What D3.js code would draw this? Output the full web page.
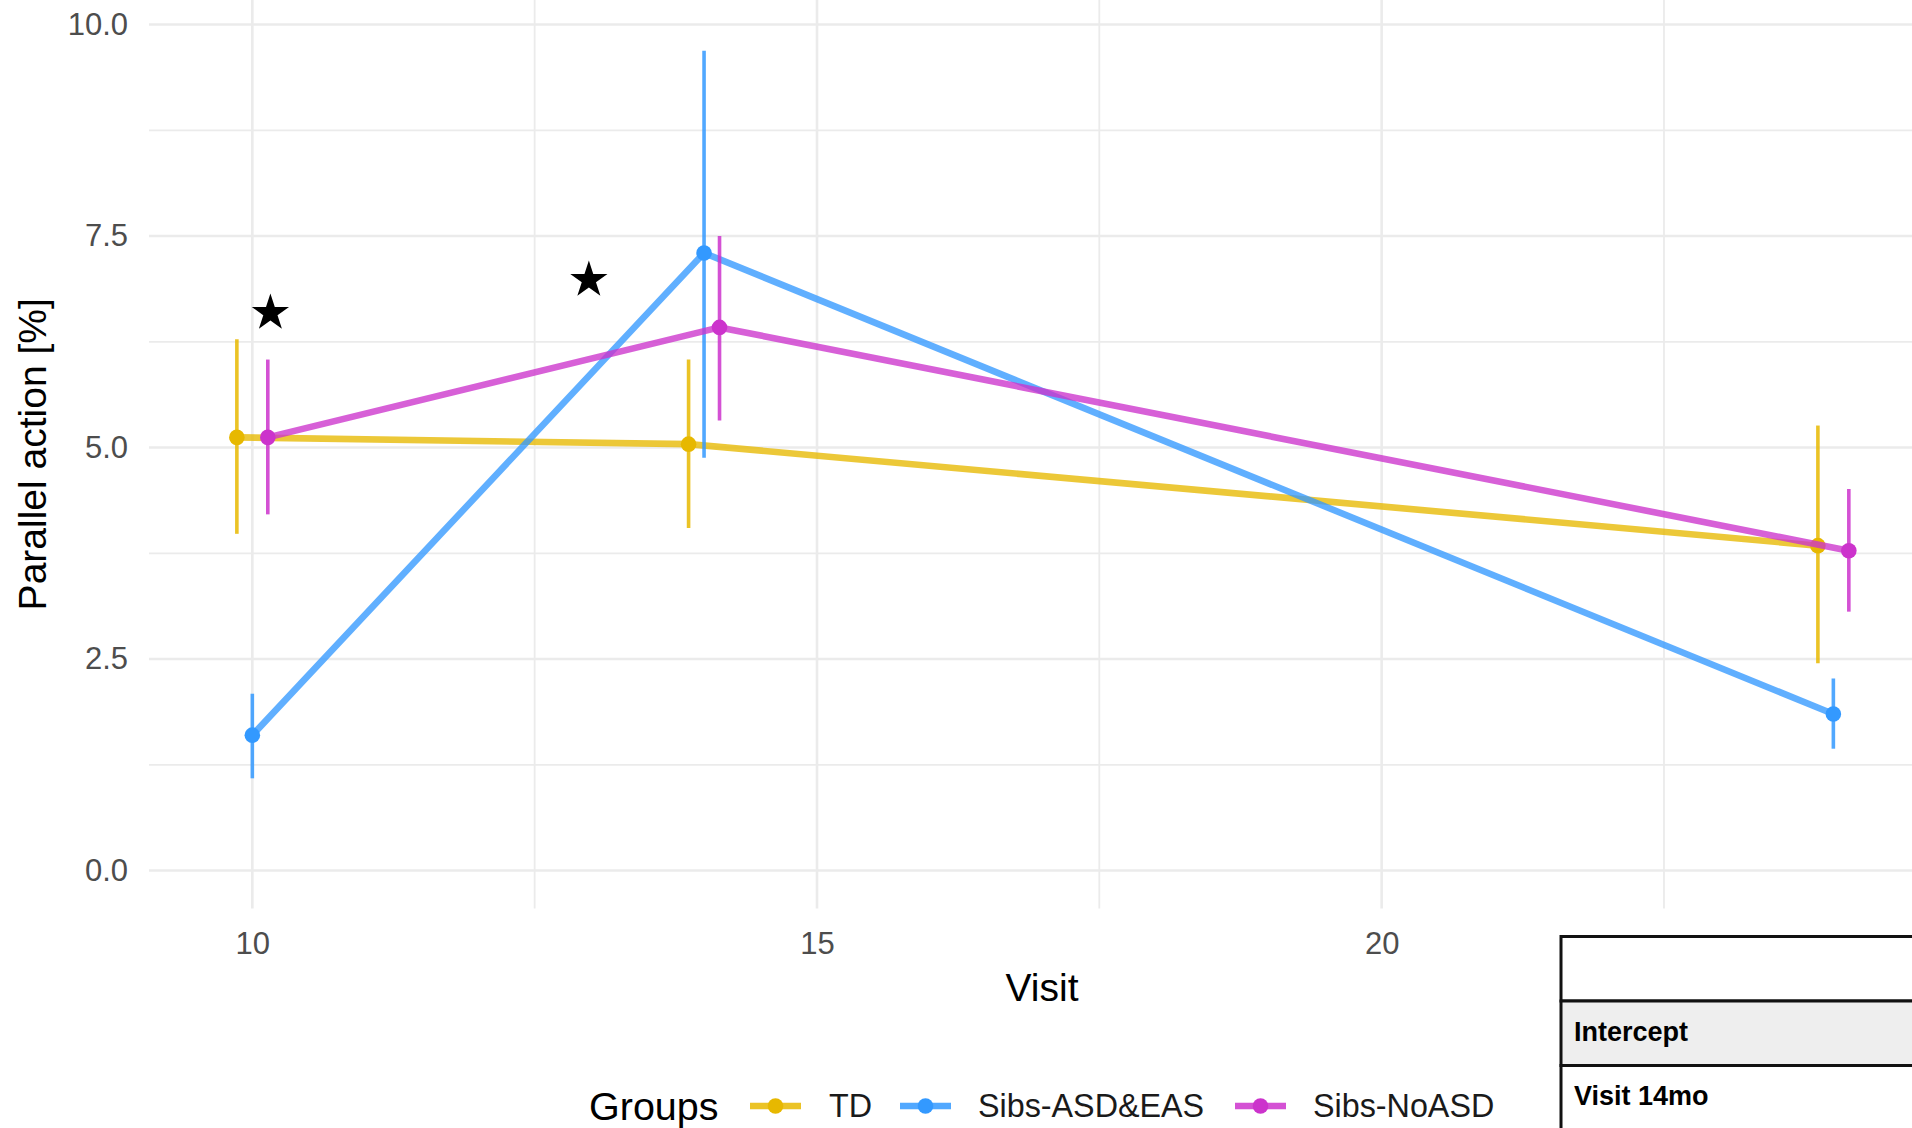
<!DOCTYPE html>
<html>
<head>
<meta charset="utf-8">
<script src="https://cdn.jsdelivr.net/npm/d3@7"></script>
<style>
  html, body { margin: 0; padding: 0; background: #ffffff; overflow: hidden; }
  svg { display: block; font-family: "Liberation Sans", Arial, Helvetica, sans-serif; }
</style>
</head>
<body>
<svg id="chart" width="1912" height="1128"></svg>
<script>
// Visits (months) and group summaries: mean with lower / upper error limits
const visits = [10, 14, 24];
const groups = ["TD", "Sibs-ASD&EAS", "Sibs-NoASD"];
const groupColors = ["#E7B800", "#3399FF", "#CC33CC"];

const tdMean = [5.12, 5.04, 3.84];
const tdLow = [3.98, 4.05, 2.45];
const tdHigh = [6.28, 6.04, 5.26];

const asdMean = [1.60, 7.30, 1.85];
const asdLow = [1.09, 4.88, 1.44];
const asdHigh = [2.09, 9.69, 2.27];

const noAsdMean = [5.12, 6.42, 3.78];
const noAsdLow = [4.21, 5.32, 3.06];
const noAsdHigh = [6.04, 7.50, 4.51];

// Significance markers (visit, value)
const starVisit = [10.16, 12.98];
const starValue = [6.59, 6.98];

// Axis ticks
const xTicks = [10, 15, 20];
const xMinor = [12.5, 17.5, 22.5];
const yTicks = [0, 2.5, 5, 7.5, 10];
const yMinor = [1.25, 3.75, 6.25, 8.75];

// Regression table rows
const tableRows = ["", "Intercept", "Visit 14mo"];

const series = [
  { name: groups[0], color: groupColors[0], mean: tdMean, low: tdLow, high: tdHigh, offset: -1 },
  { name: groups[1], color: groupColors[1], mean: asdMean, low: asdLow, high: asdHigh, offset: 0 },
  { name: groups[2], color: groupColors[2], mean: noAsdMean, low: noAsdLow, high: noAsdHigh, offset: 1 }
];
const dodge = 0.137;

const svg = d3.select("#chart");

const panel = { left: 149, right: 1935, top: 0, bottom: 908.6 };
const x = d3.scaleLinear().domain([9.085, 24.9]).range([panel.left, panel.right]);
const y = d3.scaleLinear().domain([-0.45, 10.29]).range([panel.bottom, panel.top]);

// Grid
const grid = svg.append("g").attr("class", "grid");
grid.selectAll(".ymin").data(yMinor).join("line")
  .attr("x1", panel.left).attr("x2", panel.right)
  .attr("y1", d => y(d)).attr("y2", d => y(d))
  .attr("stroke", "#EBEBEB").attr("stroke-width", 1.8);
grid.selectAll(".xmin").data(xMinor).join("line")
  .attr("y1", panel.top).attr("y2", panel.bottom)
  .attr("x1", d => x(d)).attr("x2", d => x(d))
  .attr("stroke", "#EBEBEB").attr("stroke-width", 1.8);
grid.selectAll(".ymaj").data(yTicks).join("line")
  .attr("x1", panel.left).attr("x2", panel.right)
  .attr("y1", d => y(d)).attr("y2", d => y(d))
  .attr("stroke", "#EBEBEB").attr("stroke-width", 2.6);
grid.selectAll(".xmaj").data(xTicks).join("line")
  .attr("y1", panel.top).attr("y2", panel.bottom)
  .attr("x1", d => x(d)).attr("x2", d => x(d))
  .attr("stroke", "#EBEBEB").attr("stroke-width", 2.6);

// Axes (tick labels only, no domain lines)
const yAxis = d3.axisLeft(y).tickValues(yTicks).tickFormat(d3.format(".1f")).tickSize(0).tickPadding(0);
svg.append("g").attr("transform", `translate(128,0)`).call(yAxis)
  .call(g => g.select(".domain").remove())
  .call(g => g.selectAll("text").attr("font-size", 31).attr("fill", "#4D4D4D")
    .attr("font-family", "Liberation Sans, Arial, sans-serif"));

const xAxis = d3.axisBottom(x).tickValues(xTicks).tickFormat(d3.format("d")).tickSize(0).tickPadding(0);
svg.append("g").attr("transform", `translate(0,932)`).call(xAxis)
  .call(g => g.select(".domain").remove())
  .call(g => g.selectAll("text").attr("font-size", 31).attr("fill", "#4D4D4D")
    .attr("font-family", "Liberation Sans, Arial, sans-serif"));

// Axis titles
svg.append("text").attr("x", (panel.left + panel.right) / 2).attr("y", 1001)
  .attr("text-anchor", "middle").attr("font-size", 39).attr("fill", "#000").text("Visit");
svg.append("text").attr("transform", `translate(46,${(panel.top + panel.bottom) / 2}) rotate(-90)`)
  .attr("text-anchor", "middle").attr("font-size", 39).attr("fill", "#000").text("Parallel action [%]");

// Data layers
const plot = svg.append("g");
const line = d3.line().x(d => x(d.v)).y(d => y(d.m));
series.forEach(s => {
  const pts = visits.map((v, i) => ({ v: v + s.offset * dodge, m: s.mean[i], lo: s.low[i], hi: s.high[i] }));
  const g = plot.append("g");
  g.append("path").datum(pts).attr("d", line)
    .attr("fill", "none").attr("stroke", s.color).attr("stroke-width", 6.6)
    .attr("stroke-opacity", 0.78).attr("stroke-linejoin", "round");
  g.selectAll(".err").data(pts).join("line")
    .attr("x1", d => x(d.v)).attr("x2", d => x(d.v))
    .attr("y1", d => y(d.lo)).attr("y2", d => y(d.hi))
    .attr("stroke", s.color).attr("stroke-width", 3.6).attr("stroke-opacity", 0.85);
  g.selectAll(".pt").data(pts).join("circle")
    .attr("cx", d => x(d.v)).attr("cy", d => y(d.m)).attr("r", 7.8)
    .attr("fill", s.color);
});

// Significance stars
const star = d3.symbol().type(d3.symbolStar).size(430);
svg.selectAll(".star").data(starVisit.map((v, i) => [v, starValue[i]])).join("path")
  .attr("d", star)
  .attr("transform", d => `translate(${x(d[0])},${y(d[1])})`)
  .attr("fill", "#000");

// Legend
const legendY = 1106;
svg.append("text").attr("x", 589).attr("y", legendY).attr("dominant-baseline", "central")
  .attr("font-size", 39.5).attr("fill", "#000").text("Groups");
const keyX = [750, 900, 1235];
const labelX = [829, 978, 1313];
series.forEach((s, i) => {
  svg.append("line").attr("x1", keyX[i]).attr("x2", keyX[i] + 51)
    .attr("y1", legendY).attr("y2", legendY)
    .attr("stroke", s.color).attr("stroke-width", 6.6).attr("stroke-opacity", 0.85);
  svg.append("circle").attr("cx", keyX[i] + 25.5).attr("cy", legendY).attr("r", 7.8).attr("fill", s.color);
  svg.append("text").attr("x", labelX[i]).attr("y", legendY).attr("dominant-baseline", "central")
    .attr("font-size", 32.3).attr("fill", "#1A1A1A").text(s.name);
});

// Regression table (partially visible)
const table = svg.append("g");
const tLeft = 1561, tTop = 936.5, rowH = 64.5;
tableRows.forEach((label, i) => {
  const top = tTop + i * rowH;
  table.append("rect").attr("x", tLeft).attr("y", top).attr("width", 400).attr("height", rowH)
    .attr("fill", i === 1 ? "#EEEEEE" : "#FFFFFF")
    .attr("stroke", "#111").attr("stroke-width", 3);
  if (label) {
    table.append("text").attr("x", tLeft + 13).attr("y", top + rowH / 2 - 1.5)
      .attr("dominant-baseline", "central")
      .attr("font-size", 27).attr("font-weight", "bold").attr("fill", "#000").text(label);
  }
});
</script>
</body>
</html>
